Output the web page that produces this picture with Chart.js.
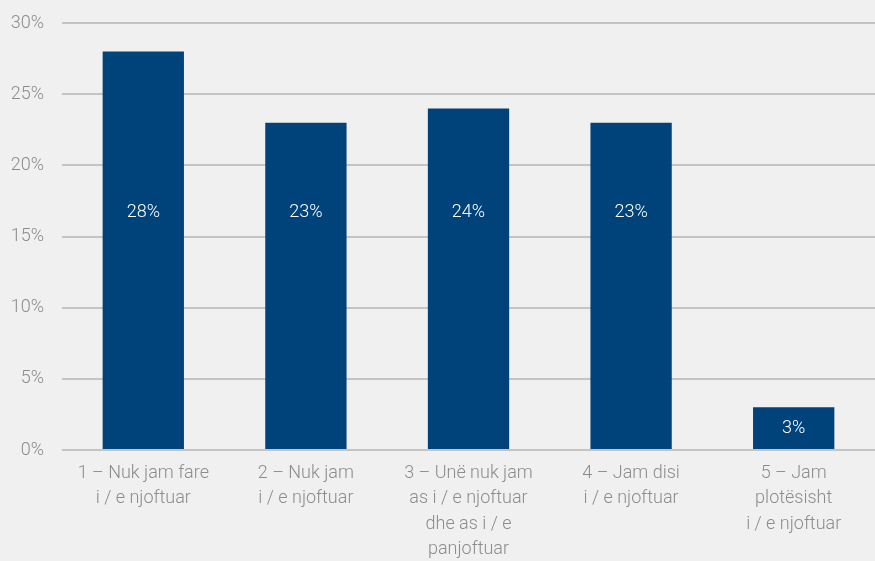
<!DOCTYPE html>
<html><head><meta charset="utf-8">
<script src="https://cdn.jsdelivr.net/npm/chart.js@4"></script>
<style>html,body{margin:0;padding:0;background:#f0f0f0;}#wrap{width:875px;height:561px;}</style>
</head><body><div id="wrap"><canvas id="c" width="875" height="561"></canvas></div>
<script>
const categories = [
  ["1 – Nuk jam fare","i / e njoftuar"],
  ["2 – Nuk jam","i / e njoftuar"],
  ["3 – Unë nuk jam","as i / e njoftuar","dhe as i / e","panjoftuar"],
  ["4 – Jam disi","i / e njoftuar"],
  ["5 – Jam","plotësisht","i / e njoftuar"]
];
const values = [28, 23, 24, 23, 3];
const valueLabels = ["28%","23%","24%","23%","3%"];
const yTicks = [0,5,10,15,20,25,30];
const labelLevel = 16.7;

const FONT = "Roboto";
const inBarLabels = {
  id:'inBarLabels',
  afterDatasetsDraw(chart){
    const ctx = chart.ctx;
    const meta = chart.getDatasetMeta(0);
    const ys = chart.scales.y;
    ctx.save();
    ctx.fillStyle = '#ffffff';
    ctx.font = '300 18px ' + FONT;
    ctx.textAlign = 'center';
    ctx.textBaseline = 'middle';
    meta.data.forEach((bar,i)=>{
      const p = bar.getProps(['x'],true);
      const v = values[i] > labelLevel ? labelLevel : values[i]/2;
      ctx.fillText(valueLabels[i], p.x, ys.getPixelForValue(v));
    });
    ctx.restore();
  }
};
new Chart(document.getElementById('c'),{
  type:'bar',
  data:{labels:categories,datasets:[{data:values,backgroundColor:'#00437a',barPercentage:0.5,categoryPercentage:1}]},
  options:{
    responsive:false,animation:false,
    layout:{padding:{left:0,top:23,right:0,bottom:0}},
    plugins:{legend:{display:false},tooltip:{enabled:false}},
    scales:{
      x:{grid:{display:false},border:{display:false},afterFit(s){s.height=111;},
         ticks:{color:'#8c8c8c',font:{family:FONT,size:18,weight:300,lineHeight:1.4},padding:3,maxRotation:0,autoSkip:false}},
      y:{min:0,max:30,afterBuildTicks(s){s.ticks=yTicks.map(v=>({value:v}));},afterFit(s){s.width=62;s.paddingTop=0;s.paddingBottom=0;},
         grid:{color:'#c4c4c4',lineWidth:2,drawTicks:false},border:{display:false},
         ticks:{color:'#8c8c8c',font:{family:FONT,size:18,weight:300},padding:18,callback:v=>v+'%'}}
    }
  },
  plugins:[inBarLabels]
});
</script></body></html>
